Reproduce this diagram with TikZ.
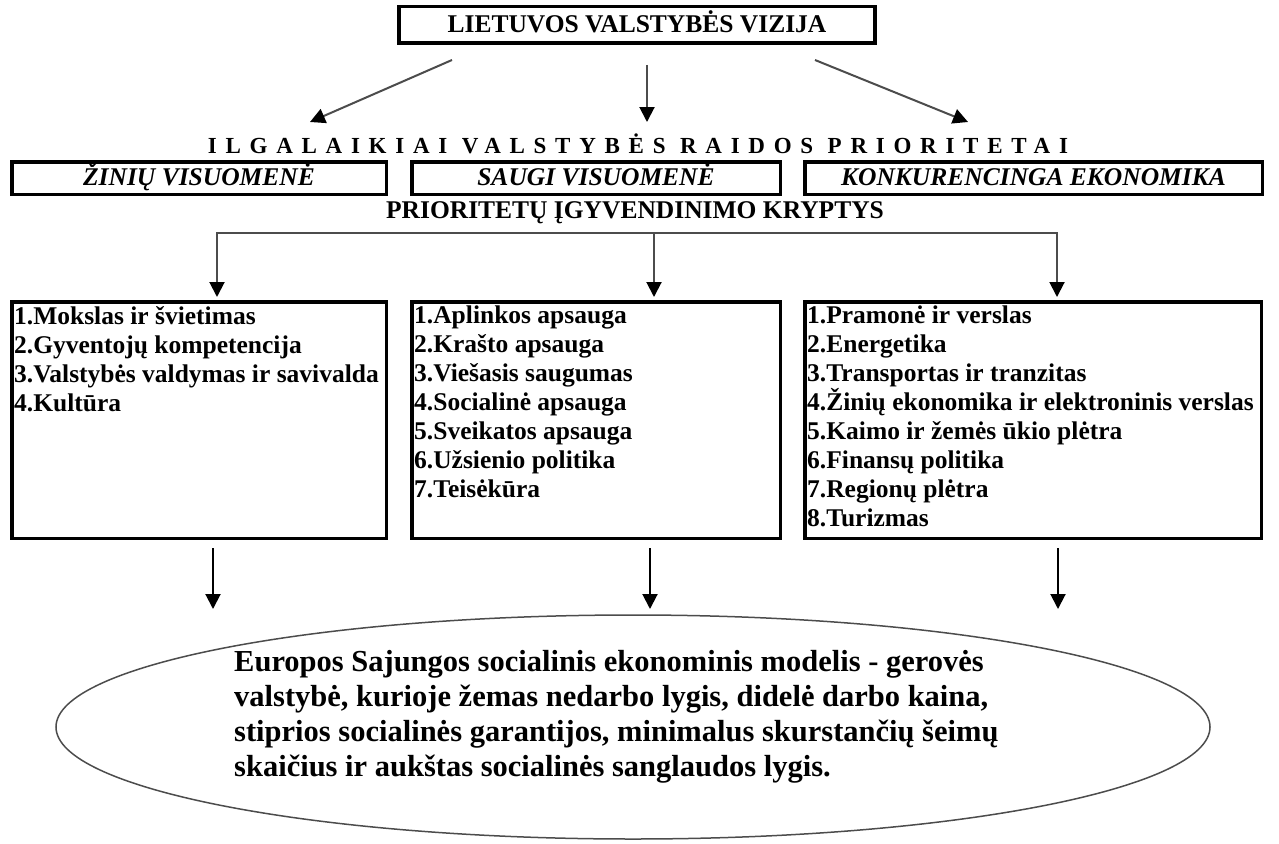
\documentclass[tikz,border=0pt]{standalone}
\usepackage{fontspec}
\setmainfont{Liberation Serif}
\usetikzlibrary{arrows.meta,shapes.geometric}
\tikzset{
  rembox/.style={draw,line width=3.5pt,inner sep=0pt},
  jungtis/.style={draw=black!70,line width=2pt},
  rodykle/.style={jungtis,-{Triangle[length=15pt,width=15pt,color=black]}},
  pbox/.style={rembox,minimum height=32.5pt,text height=18pt,text depth=3pt,font=\fontsize{25.5}{29}\selectfont\bfseries\itshape},
  sarasas/.style={anchor=north west,inner sep=0pt,align=left,font=\fontsize{25.5}{29}\selectfont\bfseries}
}
\begin{document}
\begin{tikzpicture}[x=1pt,y=-1pt]
\useasboundingbox (0,0) rectangle (1279,843);
\def\yB{178};
\def\yS{420};
\def\yH{233};
% vizija ir prioritetai
\node[rembox,minimum width=476pt,minimum height=36.5pt,text height=18pt,text depth=3pt,font=\fontsize{25.5}{29}\selectfont\bfseries] (vizija) at (637,25) {LIETUVOS VALSTYBĖS VIZIJA};
\node[inner sep=0pt,font=\fontsize{23}{26}\selectfont\bfseries\addfontfeature{LetterSpace=38}] (prio) at (638,144) {ILGALAIKIAI VALSTYBĖS RAIDOS PRIORITETAI};
\foreach \i/\xa/\ya/\xb in {1/452/60/310, 2/647/65/647, 3/815/60/968}{
  \coordinate (v\i) at (\xa,\ya);
  \coordinate (p\i) at (\xb,122);
  \draw[rodykle] (v\i) -- (p\i);
}
\foreach \n/\x/\w/\t in {zinios/199/374.5/ŽINIŲ VISUOMENĖ, saugi/596/368.5/SAUGI VISUOMENĖ, konk/1033.5/457.5/KONKURENCINGA EKONOMIKA}
  \node[pbox,minimum width=\w pt] (\n) at (\x,\yB) {\t};
\node[inner sep=0pt,font=\fontsize{25.5}{29}\selectfont\bfseries] (kryptys) at (635,213) {PRIORITETŲ ĮGYVENDINIMO KRYPTYS};
% kryptys
\foreach \i/\x in {1/217,2/654,3/1057}{
  \coordinate (h\i) at (\x,\yH);
  \coordinate (s\i) at (\x,297);
}
\draw[jungtis,line cap=rect] (h1) -- (h3);
\foreach \i in {1,2,3} \draw[rodykle] (h\i) -- (s\i);
\foreach \n/\x/\w in {listA/199/374.5, listB/596/368.5, listC/1033/456.5}
  \node[rembox,minimum width=\w pt,minimum height=236.5pt] (\n) at (\x,\yS) {};
\node[sarasas] (txtA) at (14,306) {1.Mokslas ir švietimas\\2.Gyventojų kompetencija\\3.Valstybės valdymas ir savivalda\\4.Kultūra};
\node[sarasas] (txtB) at (414,306) {1.Aplinkos apsauga\\2.Krašto apsauga\\3.Viešasis saugumas\\4.Socialinė apsauga\\5.Sveikatos apsauga\\6.Užsienio politika\\7.Teisėkūra};
\node[sarasas] (txtC) at (807,306) {1.Pramonė ir verslas\\2.Energetika\\3.Transportas ir tranzitas\\4.Žinių ekonomika ir elektroninis verslas\\5.Kaimo ir žemės ūkio plėtra\\6.Finansų politika\\7.Regionų plėtra\\8.Turizmas};
% modelis
\foreach \i/\x in {1/213,2/650,3/1058}{
  \coordinate (b\i) at (\x,548);
  \coordinate (e\i) at (\x,609);
  \draw[rodykle,draw=black] (b\i) -- (e\i);
}
\node[ellipse,draw=black!70,line width=1.5pt,minimum width=1154pt,minimum height=224pt,inner sep=0pt] (modelis) at (633,727) {};
\node[anchor=west,align=left,inner sep=0pt,font=\fontsize{30.5}{35}\selectfont\bfseries] (modtxt) at (234,717) {Europos Sajungos socialinis ekonominis modelis - gerovės\\valstybė, kurioje žemas nedarbo lygis, didelė darbo kaina,\\stiprios socialinės garantijos, minimalus skurstančių šeimų\\skaičius ir aukštas socialinės sanglaudos lygis.};
\end{tikzpicture}
\end{document}
